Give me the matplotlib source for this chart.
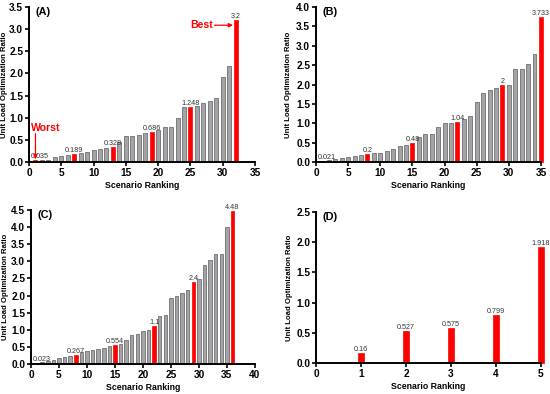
import matplotlib
matplotlib.use("Agg")
import matplotlib.pyplot as plt
import numpy as np

plt.rcParams['font.family'] = ['Liberation Sans', 'DejaVu Sans']

# ---------------- data ----------------
a_values = [0.035, 0.04, 0.05, 0.12, 0.14, 0.165, 0.189, 0.21, 0.225, 0.27, 0.30, 0.32,
            0.328, 0.45, 0.59, 0.59, 0.61, 0.66, 0.686, 0.73, 0.80, 0.80, 1.00, 1.24,
            1.248, 1.26, 1.33, 1.38, 1.44, 1.92, 2.17, 3.2]
a_red = [1, 7, 13, 19, 25, 32]
a_labels = ["0.035", "0.189", "0.328", "0.686", "1.248", "3.2"]

b_values = [0.021, 0.04, 0.07, 0.10, 0.13, 0.16, 0.19, 0.2, 0.23, 0.24, 0.27, 0.33,
            0.41, 0.45, 0.48, 0.64, 0.72, 0.72, 0.90, 1.00, 1.00, 1.04, 1.10, 1.19,
            1.55, 1.79, 1.86, 1.90, 2.0, 1.99, 2.40, 2.40, 2.52, 2.79, 3.733]
b_red = [1, 8, 15, 22, 29, 35]
b_labels = ["0.021", "0.2", "0.48", "1.04", "2", "3.733"]

c_values = [0.023, 0.05, 0.10, 0.12, 0.19, 0.21, 0.24, 0.267, 0.34, 0.38, 0.41, 0.45,
            0.48, 0.53, 0.554, 0.59, 0.71, 0.85, 0.88, 0.96, 1.00, 1.1, 1.40, 1.44,
            1.92, 2.00, 2.08, 2.17, 2.4, 2.48, 2.88, 3.05, 3.20, 3.20, 4.00, 4.48]
c_red = [1, 8, 15, 22, 29, 36]
c_labels = ["0.023", "0.267", "0.554", "1.1", "2.4", "4.48"]

d_rank = [1, 2, 3, 4, 5]
d_values = [0.16, 0.527, 0.575, 0.799, 1.918]
d_labels = ["0.16", "0.527", "0.575", "0.799", "1.918"]

xlabel = "Scenario Ranking"
ylabel = "Unit Load Optimization Ratio"

GRAY = "#a4a4a8"
GRAY_EDGE = "#5a5a5a"
RED = "#ff0000"
TXT = "#333333"

fig = plt.figure(figsize=(5.5, 3.94), dpi=100)
axA = fig.add_axes([0.0527, 0.589, 0.411, 0.393])
axB = fig.add_axes([0.5745, 0.589, 0.409, 0.393])
axC = fig.add_axes([0.0564, 0.0761, 0.407, 0.391])
axD = fig.add_axes([0.5745, 0.0787, 0.409, 0.383])


def style(ax, xlim, xticks, ylim, yticks, tag, ylab_x):
    ax.set_xlim(*xlim)
    ax.set_ylim(*ylim)
    ax.set_xticks(xticks)
    ax.set_yticks(yticks)
    ax.set_yticklabels([f"{v:.1f}" for v in yticks])
    for s in ["top", "right"]:
        ax.spines[s].set_visible(False)
    for s in ["left", "bottom"]:
        ax.spines[s].set_linewidth(1.4)
    ax.tick_params(axis='both', direction='out', length=3, width=1.2,
                   labelsize=7.3, pad=1.2)
    for lab in ax.get_xticklabels() + ax.get_yticklabels():
        lab.set_fontweight('bold')
    ax.set_xlabel(xlabel, fontsize=6.3, fontweight='bold', labelpad=2)
    ax.set_ylabel(ylabel, fontsize=5.6, fontweight='bold')
    ax.yaxis.set_label_coords(ylab_x, 0.5)
    ax.text(0.03, 1.0, tag, transform=ax.transAxes, fontsize=7.8,
            fontweight='bold', va='top', ha='left')


def ranked(ax, values, red, labels):
    x = np.arange(1, len(values) + 1)
    colors = [RED if i in red else GRAY for i in x]
    edges = [RED if i in red else GRAY_EDGE for i in x]
    bars = ax.bar(x, values, width=0.62, color=colors, edgecolor=edges, linewidth=0.5)
    for b in bars:
        b.set_clip_on(False)
    for k, (i, lab) in enumerate(zip(red, labels)):
        v = values[i - 1]
        if k == 0:
            ax.text(i - 0.75, v, lab, fontsize=5.2, color=TXT, ha='left', va='bottom')
        else:
            ax.text(i, v, lab, fontsize=5.2, color=TXT, ha='center', va='bottom')


ranked(axA, a_values, a_red, a_labels)
style(axA, (0, 35), range(0, 36, 5), (0, 3.5), np.arange(0, 3.51, 0.5), "(A)", -0.092)
axA.text(0.35, 0.77, "Worst", color=RED, fontsize=7.6, fontweight='bold',
         ha='left', va='center')
axA.annotate("", xy=(1, 0.06), xytext=(1, 0.64),
             arrowprops=dict(arrowstyle='-|>', color=RED, lw=0.9,
                             mutation_scale=6, shrinkA=0, shrinkB=0))
axA.text(24.9, 3.09, "Best", color=RED, fontsize=7.6, fontweight='bold',
         ha='left', va='center')
axA.annotate("", xy=(31.6, 3.09), xytext=(28.7, 3.09),
             arrowprops=dict(arrowstyle='-|>', color=RED, lw=0.9,
                             mutation_scale=6, shrinkA=0, shrinkB=0))

ranked(axB, b_values, b_red, b_labels)
style(axB, (0, 35), range(0, 36, 5), (0, 4.0), np.arange(0, 4.01, 0.5), "(B)", -0.105)

ranked(axC, c_values, c_red, c_labels)
style(axC, (0, 40), range(0, 41, 5), (0, 4.5), np.arange(0, 4.51, 0.5), "(C)", -0.1)

dbars = axD.bar(d_rank, d_values, width=0.14, color=RED, edgecolor=RED, linewidth=0.5)
for b in dbars:
    b.set_clip_on(False)
for x, v, lab in zip(d_rank, d_values, d_labels):
    axD.text(x, v, lab, fontsize=5.2, color=TXT, ha='center', va='bottom')
style(axD, (0, 5), range(0, 6), (0, 2.5), np.arange(0, 2.51, 0.5), "(D)", -0.1)

fig.savefig("out.png", dpi=100)
